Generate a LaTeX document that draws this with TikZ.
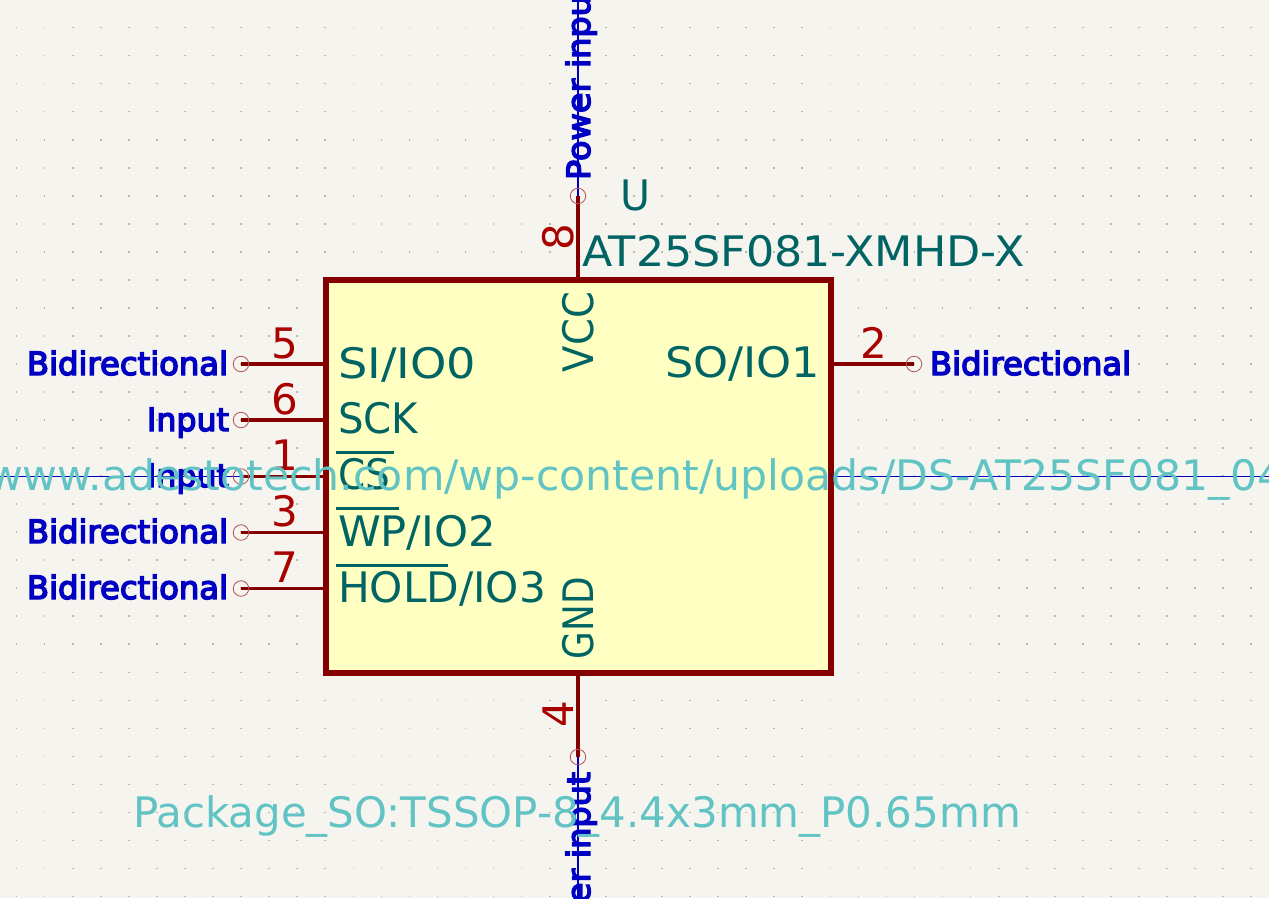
\documentclass[tikz,border=0pt]{standalone}
\usepackage{fontspec}
\usepackage{graphicx}
\setmainfont{DejaVu Sans}
\font\kbold="DejaVu Sans:embolden=4.5" at 32pt
\newcommand{\kt}[2]{\resizebox{#1pt}{\height}{#2}}
\definecolor{kbg}{RGB}{245,244,239}
\definecolor{kbody}{RGB}{255,255,194}
\definecolor{kline}{RGB}{132,0,0}
\definecolor{kpinnum}{RGB}{169,0,0}
\definecolor{kname}{RGB}{0,100,100}
\definecolor{ketype}{RGB}{0,0,194}
\definecolor{kfield}{RGB}{97,195,195}
\definecolor{kcirc}{RGB}{180,80,80}
\definecolor{kgrid}{RGB}{185,185,180}
\tikzset{
  x=1pt,y=-1pt,
  txt/.style={inner sep=0,outer sep=0,anchor=base west,font=\fontsize{42}{42}\selectfont},
  pinname/.style={txt,text=kname},
  pinnum/.style={txt,text=kpinnum},
  etype/.style={txt,text=ketype,font=\kbold},
  field/.style={txt,text=kfield},
  refd/.style={txt,text=kname},
  pinline/.style={draw=kline,line width=3.2pt},
  hair/.style={draw=ketype,line width=1.1pt},
  bar/.style={draw=kname,line width=3pt},
  pincirc/.style={circle,draw=kcirc,line width=.8pt,minimum size=15.5pt,inner sep=0,fill=none},
  griddot/.style={fill=kgrid}
}
\begin{document}
\begin{tikzpicture}
\useasboundingbox (0,0) rectangle (1269,898);
\clip (0,0) rectangle (1269,898);
\fill[kbg] (0,0) rectangle (1269,898);
\foreach \i in {0,...,45}{\foreach \j in {0,...,32}{
  \fill[griddot] ({16.6+28.06*\i-.8},{27.6+28.03*\j-.8}) rectangle ++(1.6,1.6);}}
% body
\node[draw=kline,fill=kbody,line width=6pt,outer sep=0,minimum width=505pt,minimum height=393pt,inner sep=0,anchor=center] (body) at (578.5,476.5) {};
% pin ends
\coordinate (p5) at (241,364);
\coordinate (p6) at (241,420);
\coordinate (p1) at (241,476.5);
\coordinate (p3) at (241,532.5);
\coordinate (p7) at (241,588.5);
\coordinate (p2) at (914,364);
\coordinate (p8) at (578,196);
\coordinate (p4) at (578,757);
\coordinate (b5) at (326,364);
\coordinate (b6) at (326,420);
\coordinate (b1) at (326,476.5);
\coordinate (b3) at (326,532.5);
\coordinate (b7) at (326,588.5);
\coordinate (b2) at (831,364);
\coordinate (b8) at (578,280);
\coordinate (b4) at (578,673);
\coordinate (hl) at (0,476.5);
\coordinate (hr) at (1269,476.5);
\coordinate (vt) at (578,0);
\coordinate (vb) at (578,898);
\draw[hair] (hl) -- (p1);
\draw[hair] (b2 |- hl) -- (hr);
\draw[hair] (p8) -- (vt);
\draw[hair] (p4) -- (vb);
\foreach \a/\b in {p5/b5,p6/b6,p1/b1,p3/b3,p7/b7,p2/b2,p8/b8,p4/b4}{\draw[pinline] (\a) -- (\b);}
\foreach \a in {p5,p6,p1,p3,p7,p2,p8,p4}{\node[pincirc] (c\a) at (\a) {};}
% pin numbers
\node[pinnum] (n5) at (271,358) {5};
\node[pinnum] (n6) at (271,414) {6};
\node[pinnum] (n1) at (271,470) {1};
\node[pinnum] (n3) at (271,526) {3};
\node[pinnum] (n7) at (271,582) {7};
\node[pinnum] (n2) at (860,358) {2};
\node[pinnum,rotate=90] (n8) at (573,250) {8};
\node[pinnum,rotate=90] (n4) at (573,727) {4};
% pin names
\node[pinname] (s5) at (338,378) {\kt{138}{SI/IO0}};
\node[pinname] (s6) at (338,433.5) {\kt{80}{SCK}};
\node[pinname] (s1) at (338,489.5) {\kt{52}{CS}};
\node[pinname] (s3) at (338,546) {\kt{158}{WP/IO2}};
\node[pinname] (s7) at (338,602.5) {\kt{208}{HOLD/IO3}};
\node[pinname] (s2) at (665,377.5) {\kt{155}{SO/IO1}};
\node[pinname,rotate=90] (s8) at (593,372) {\kt{80}{VCC}};
\node[pinname,rotate=90] (s4) at (593,659) {\kt{82}{GND}};
% overbars
\coordinate (o1a) at (336,452.5); \coordinate (o1b) at (394,452.5);
\coordinate (o3a) at (336,508.5); \coordinate (o3b) at (399,508.5);
\coordinate (o7a) at (336,565); \coordinate (o7b) at (448,565);
\draw[bar] (o1a) -- (o1b);
\draw[bar] (o3a) -- (o3b);
\draw[bar] (o7a) -- (o7b);
% electrical types
\node[etype] (e5) at (27,375) {\kt{201}{Bidirectional}};
\node[etype] (e6) at (147,431) {\kt{82}{Input}};
\node[etype] (e1) at (147,487) {\kt{82}{Input}};
\node[etype] (e3) at (27,543) {\kt{201}{Bidirectional}};
\node[etype] (e7) at (27,599) {\kt{201}{Bidirectional}};
\node[etype] (e2) at (930,375) {\kt{201}{Bidirectional}};
\node[etype,rotate=90] (e8) at (590,180) {\kt{198}{Power input}};
\node[etype,rotate=90] (e4) at (590,970) {\kt{198}{Power input}};
% fields
\node[refd] (ref) at (620,210.5) {\kt{30}{U}};
\node[refd] (val) at (582,266.5) {\kt{443}{AT25SF081-XMHD-X}};
\node[field] (ds) at (-12,490) {\kt{1296}{www.adestotech.com/wp-content/uploads/DS-AT25SF081\_04}};
\node[field] (fp) at (133,827.5) {\kt{888}{Package\_SO:TSSOP-8\_4.4x3mm\_P0.65mm}};
\end{tikzpicture}
\end{document}
